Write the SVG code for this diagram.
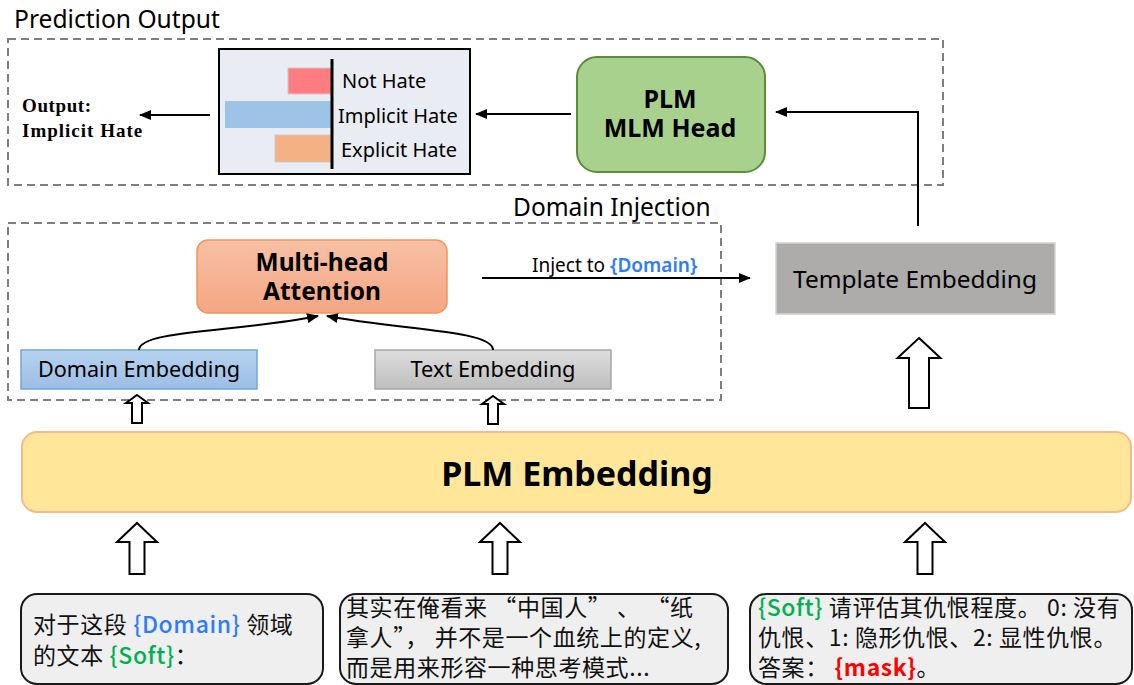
<svg xmlns="http://www.w3.org/2000/svg" width="1134" height="685" viewBox="0 0 1134 685">
  <defs>
    <style>
      .lbl { font-family: "Noto Sans", "Open Sans", sans-serif; fill: #000; }
      .bold { font-weight: 700; }
      .cjk { font-family: "Noto Sans CJK SC", "Noto Sans", sans-serif; font-size: 23px; letter-spacing: 0.6px; fill: #111; }
      .dash { fill: none; stroke: #7f7f7f; stroke-width: 2; stroke-dasharray: 8 5; }
      .conn { fill: none; stroke: #000; stroke-width: 2; }
      .hollow { fill: #fff; stroke: #000; stroke-width: 2; stroke-linejoin: miter; }
      .txtbox { fill: #efefef; stroke: #1a1a1a; stroke-width: 2; }
      .blue { fill: #2f7cf6; }
      .green { fill: #00b050; }
      .red { fill: #ff0000; font-weight: 700; }
    </style>
    <marker id="arrow" viewBox="0 0 12 10" refX="11" refY="5" markerWidth="12" markerHeight="10" markerUnits="userSpaceOnUse" orient="auto">
      <path d="M0,0 L12,5 L0,10 Z" fill="#000"/>
    </marker>
    <linearGradient id="gOrange" x1="0" y1="0" x2="0" y2="1">
      <stop offset="0" stop-color="#f7c0a4"/>
      <stop offset="1" stop-color="#f4a683"/>
    </linearGradient>
    <linearGradient id="gBlue" x1="0" y1="0" x2="0" y2="1">
      <stop offset="0" stop-color="#b6d1ee"/>
      <stop offset="1" stop-color="#9cbfe5"/>
    </linearGradient>
    <linearGradient id="gGray" x1="0" y1="0" x2="0" y2="1">
      <stop offset="0" stop-color="#dedede"/>
      <stop offset="1" stop-color="#bebebe"/>
    </linearGradient>
    <!-- hollow up-arrows -->
    <path id="bigUp" d="M0,0 L20,19 L7.5,19 L7.5,51 L-7.5,51 L-7.5,19 L-20,19 Z"/>
    <path id="tplUp" d="M0,0 L21.5,20 L10,20 L10,70 L-10,70 L-10,20 L-21.5,20 Z"/>
    <path id="smallUp" d="M0,0 L11,8 L5,8 L5,28 L-5,28 L-5,8 L-11,8 Z"/>
  </defs>

  <rect width="1134" height="685" fill="#fff"/>

  <!-- Prediction Output group -->
  <g id="prediction-output">
    <text class="lbl" x="14" y="28" font-size="24.6">Prediction Output</text>
    <rect class="dash" x="8" y="39" width="935" height="146"/>
  </g>

  <g id="output-label">
    <text x="22" y="112" font-family="Liberation Serif, serif" font-weight="700" font-size="19" letter-spacing="0.6">Output:</text>
    <text x="22" y="137" font-family="Liberation Serif, serif" font-weight="700" font-size="19" letter-spacing="1">Implicit Hate</text>
  </g>

  <g id="score-chart">
    <rect x="219" y="49" width="251" height="125" fill="#e9edf3" stroke="#000" stroke-width="2"/>
    <rect x="288" y="68" width="44" height="26" fill="#ff7c80" stroke="#c9c9c9" stroke-width="1"/>
    <rect x="225" y="101" width="107" height="27" fill="#9dc3e6"/>
    <rect x="275" y="135" width="57" height="27" fill="#f4b183" stroke="#c9c9c9" stroke-width="1"/>
    <line x1="332" y1="59" x2="332" y2="169" stroke="#000" stroke-width="3"/>
    <text class="lbl" x="342" y="88" font-size="20">Not Hate</text>
    <text class="lbl" x="338" y="123" font-size="20">Implicit Hate</text>
    <text class="lbl" x="341" y="157" font-size="20">Explicit Hate</text>
  </g>

  <g id="mlm-head">
    <rect x="577" y="57" width="188" height="115" rx="20" fill="#a9d18e" stroke="#5b8c3a" stroke-width="2"/>
    <text class="lbl bold" x="670" y="108" font-size="25" text-anchor="middle">PLM</text>
    <text class="lbl bold" x="670" y="137" font-size="25" text-anchor="middle">MLM Head</text>
  </g>

  <!-- Domain Injection group -->
  <g id="domain-injection">
    <text class="lbl" x="513" y="216" font-size="24.5">Domain Injection</text>
    <rect class="dash" x="8" y="223" width="713" height="177"/>
  </g>

  <g id="multi-head-attention">
    <rect x="197" y="240" width="250" height="73" rx="11" fill="url(#gOrange)" stroke="#f0955e" stroke-width="1.5"/>
    <text class="lbl bold" x="322" y="271" font-size="24.5" text-anchor="middle">Multi-head</text>
    <text class="lbl bold" x="322" y="300" font-size="24.5" text-anchor="middle">Attention</text>
  </g>

  <g id="domain-embedding">
    <rect x="21" y="350" width="236" height="39" fill="url(#gBlue)" stroke="#6fa8dc" stroke-width="1.5"/>
    <text class="lbl" x="139" y="377" font-size="21.6" text-anchor="middle">Domain Embedding</text>
  </g>

  <g id="text-embedding">
    <rect x="375" y="350" width="236" height="39" fill="url(#gGray)" stroke="#a6a6a6" stroke-width="1.5"/>
    <text class="lbl" x="493" y="377" font-size="21.8" text-anchor="middle">Text Embedding</text>
  </g>

  <g id="template-embedding">
    <rect x="776" y="243" width="279" height="71" fill="#aeabab" stroke="#d3d3d3" stroke-width="1.5"/>
    <text class="lbl" x="915" y="288" font-size="24.4" text-anchor="middle">Template Embedding</text>
  </g>

  <g id="plm-embedding">
    <rect x="22" y="432" width="1109" height="80" rx="15" fill="#ffe699" stroke="#f8b98a" stroke-width="2"/>
    <text class="lbl bold" x="577" y="486" font-size="34" text-anchor="middle">PLM Embedding</text>
  </g>

  <!-- input prompt boxes -->
  <g id="input-domain">
    <rect class="txtbox" x="21" y="594" width="302" height="90" rx="16"/>
    <text class="cjk" x="33" y="633">对于这段 <tspan class="blue" font-weight="500">{Domain}</tspan> 领域</text>
    <text class="cjk" x="33" y="664">的文本 <tspan class="green" font-weight="500">{Soft}</tspan>：</text>
  </g>

  <g id="input-text">
    <rect class="txtbox" x="340" y="594" width="388" height="90" rx="16"/>
    <text class="cjk" x="346" y="616">其实在俺看来 “中国人” 、 “纸</text>
    <text class="cjk" x="346" y="646">拿人”， 并不是一个血统上的定义,</text>
    <text class="cjk" x="346" y="676">而是用来形容一种思考模式...</text>
  </g>

  <g id="input-template">
    <rect class="txtbox" x="750" y="594" width="382" height="90" rx="16"/>
    <text class="cjk" x="758" y="616"><tspan class="green" font-weight="500">{Soft}</tspan> 请评估其仇恨程度。 0: 没有</text>
    <text class="cjk" x="758" y="646">仇恨、1: 隐形仇恨、2: 显性仇恨。</text>
    <text class="cjk" x="758" y="676">答案： <tspan class="red">{mask}</tspan>。</text>
  </g>

  <!-- connectors -->
  <g id="connectors">
    <line class="conn" x1="210" y1="115" x2="140" y2="115" marker-end="url(#arrow)"/>
    <line class="conn" x1="571" y1="114" x2="476" y2="114" marker-end="url(#arrow)"/>
    <polyline class="conn" points="918,226 918,112 776,112" marker-end="url(#arrow)"/>
    <line class="conn" x1="482" y1="278" x2="750" y2="278" marker-end="url(#arrow)"/>
    <text class="lbl" x="532" y="272" font-size="19">Inject to <tspan class="blue" font-weight="600">{Domain}</tspan></text>
    <path class="conn" d="M139,350 C139,330 240,332 318,316" marker-end="url(#arrow)"/>
    <path class="conn" d="M493,350 C493,330 400,330 327,316" marker-end="url(#arrow)"/>
    <use href="#smallUp" class="hollow" x="137" y="395"/>
    <use href="#smallUp" class="hollow" x="493" y="396"/>
    <use href="#tplUp" class="hollow" x="919" y="338"/>
    <use href="#bigUp" class="hollow" x="137" y="523"/>
    <use href="#bigUp" class="hollow" x="500" y="523"/>
    <use href="#bigUp" class="hollow" x="925" y="523"/>
  </g>
</svg>
